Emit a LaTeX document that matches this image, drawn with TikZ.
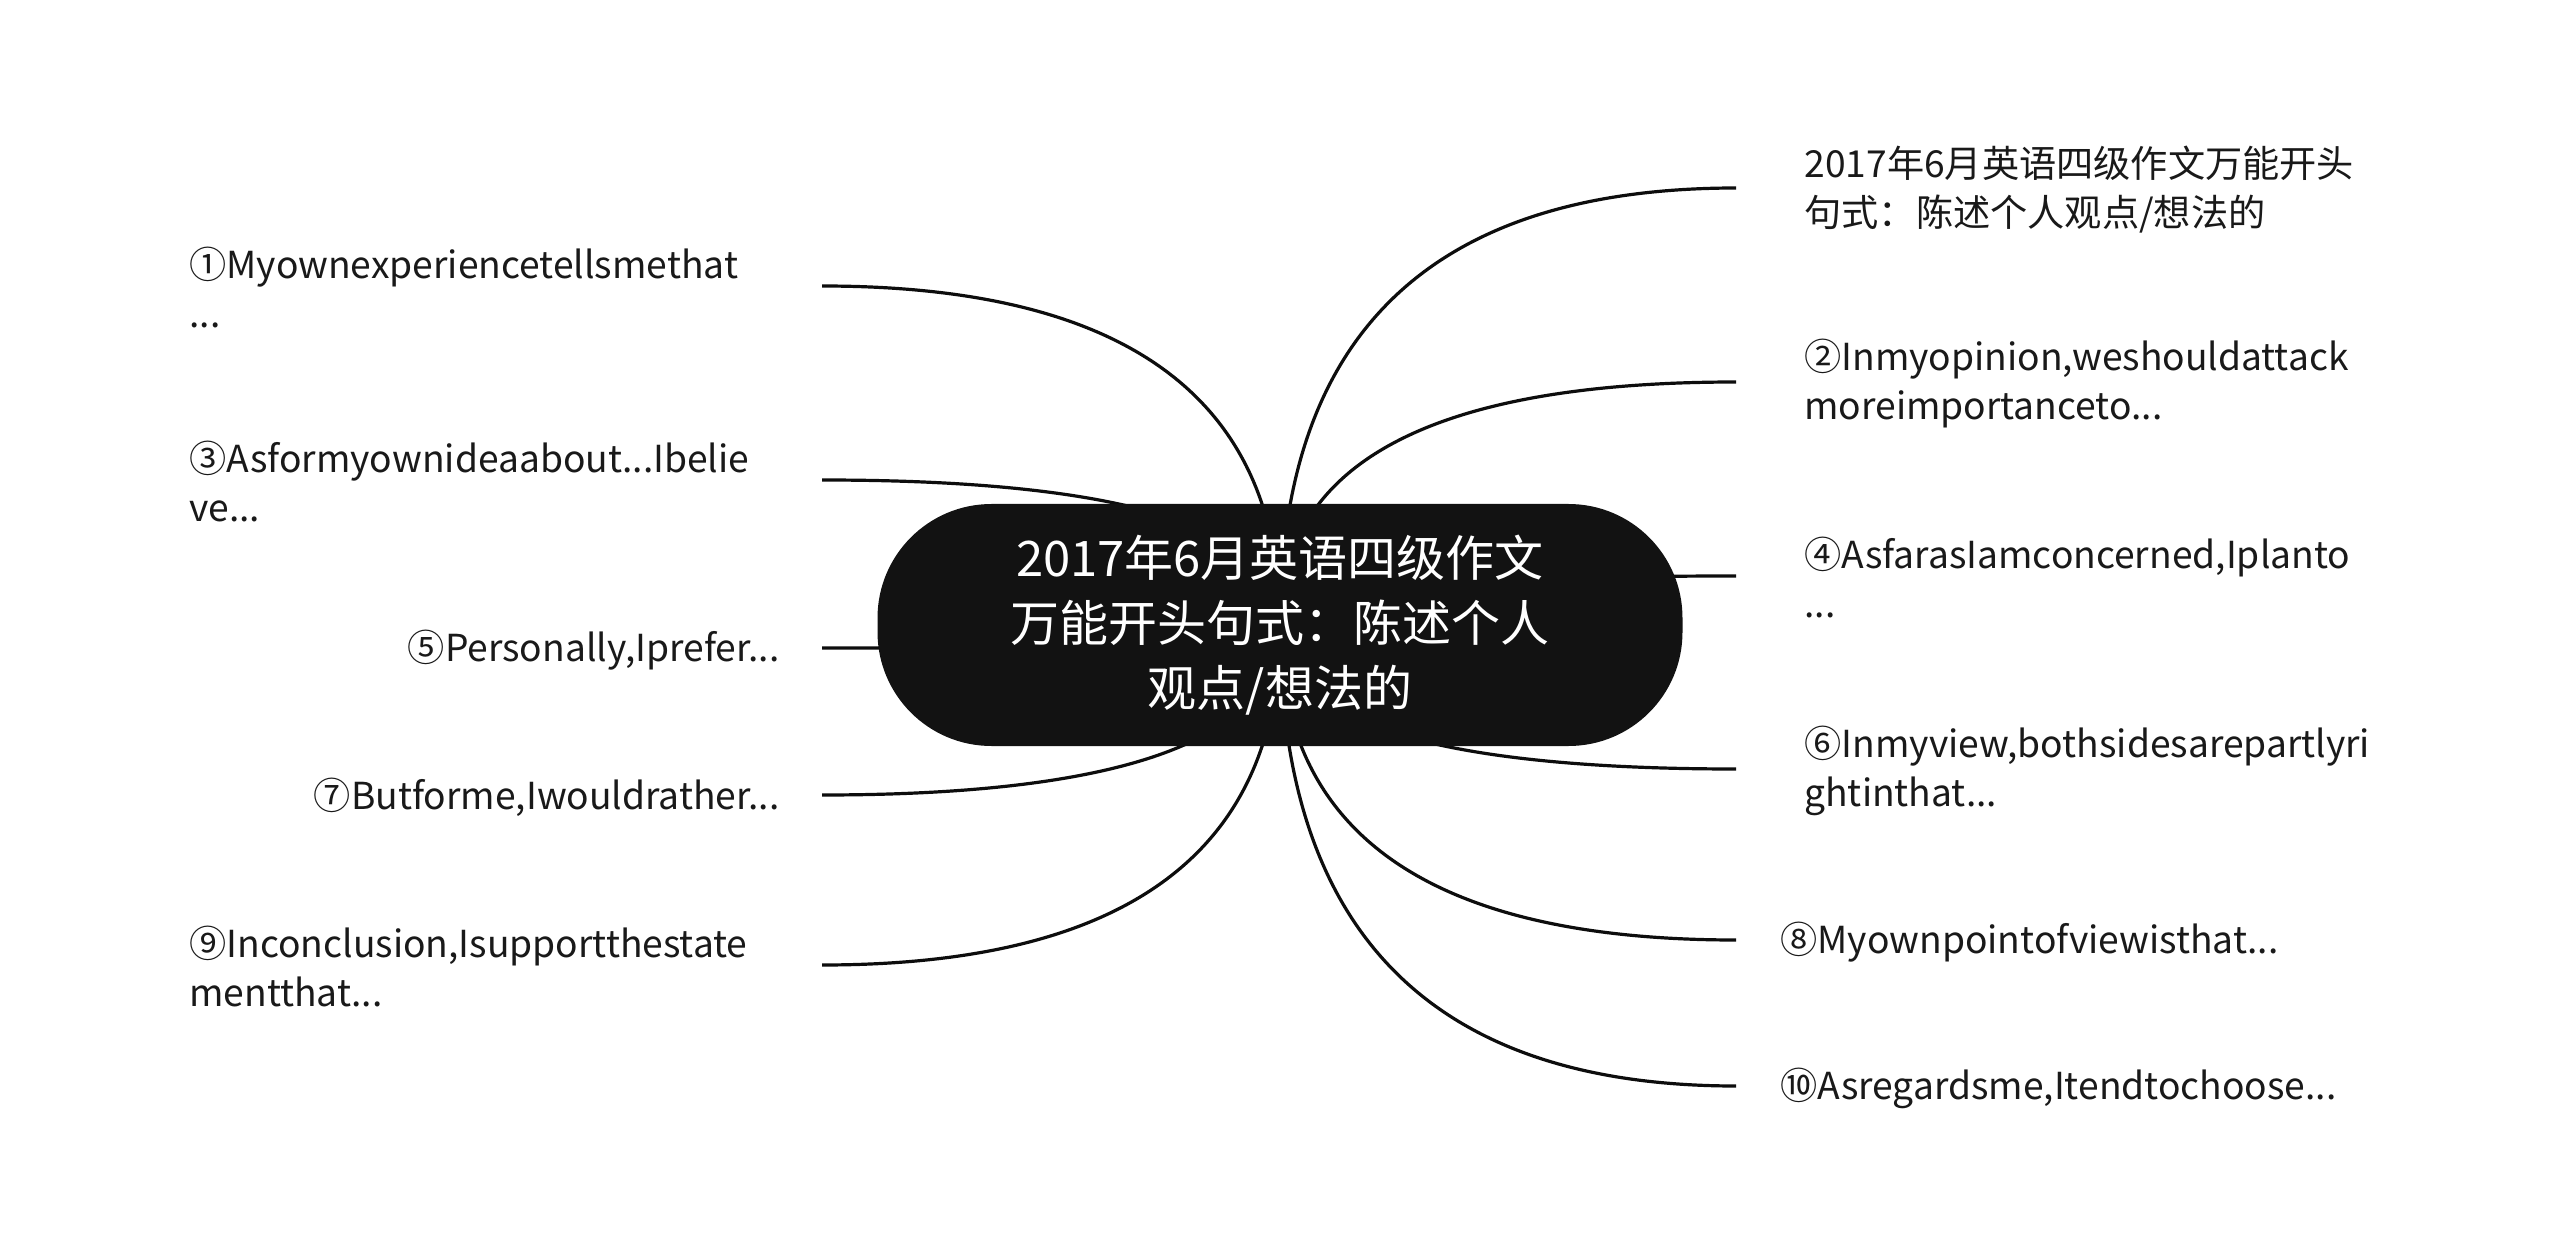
\documentclass[tikz,border=0pt]{standalone}
\usepackage{fontspec}
\setmainfont{Noto Sans CJK SC}
\usetikzlibrary{calc}
\usetikzlibrary{backgrounds}

\tikzset{
	topic/.style = {rectangle, rounded corners=57pt, fill=black!93, text=white, minimum width=402.5pt, minimum height=121pt, inner sep=0pt, align=center, font=\fontsize{24.5pt}{32.5pt}\selectfont},
	item/.style = {inner sep=0pt, text=black!90, font=\fontsize{18.6pt}{24.5pt}\selectfont},
	leftitem/.style = {item, anchor=west, align=left},
	rightitem/.style = {item, anchor=west, align=left},
	branch/.style = {line width=1.6pt, black!95}
}

\begin{document}
\begin{tikzpicture}[x=0.5pt, y=-0.5pt]
		\useasboundingbox (0,0) rectangle (2560,1251);
		\node[topic] (topic) at (1280,625) {2017年6月英语四级作文\\万能开头句式：陈述个人\\观点/想法的};
		% left side
		\coordinate (e1) at (822,286);
		\coordinate (e3) at (822,480);
		\coordinate (e5) at (822,648);
		\coordinate (e7) at (822,795);
		\coordinate (e9) at (822,965);
		\node[leftitem] (t1) at (189,288) {①Myownexperiencetellsmethat\\...};
		\node[leftitem] (t3) at (189,482) {③Asformyownideaabout...Ibelie\\ve...};
		\node[item, anchor=east] (t5) at (780,650) {⑤Personally,Iprefer...};
		\node[item, anchor=east] (t7) at (780,797) {⑦Butforme,Iwouldrather...};
		\node[leftitem] (t9) at (189,967) {⑨Inconclusion,Isupportthestate\\mentthat...};
		% right side
		\coordinate (e0) at (1736,188);
		\coordinate (e2) at (1736,382);
		\coordinate (e4) at (1736,576);
		\coordinate (e6) at (1736,769);
		\coordinate (e8) at (1736,940);
		\coordinate (e10) at (1736,1086);
		\node[rightitem] (t0) at (1804,190) {2017年6月英语四级作文万能开头\\句式：陈述个人观点/想法的};
		\node[rightitem] (t2) at (1804,384) {②Inmyopinion,weshouldattack\\moreimportanceto...};
		\node[rightitem] (t4) at (1804,578) {④AsfarasIamconcerned,Iplanto\\...};
		\node[rightitem] (t6) at (1804,771) {⑥Inmyview,bothsidesarepartlyri\\ghtinthat...};
		\node[rightitem] (t8) at (1780,942) {⑧Myownpointofviewisthat...};
		\node[rightitem] (t10) at (1780,1088) {⑩Asregardsme,Itendtochoose...};
		\begin{scope}[on background layer]
			\fill[white] (0,0) rectangle (2560,1251);
			\foreach \e in {e0,e1,e2,e3,e4,e5,e6,e7,e8,e9,e10}
				\draw[branch] (topic.center) .. controls ($(topic.center)!2/3!(topic.center |- \e)$) and ($(\e)!2/3!(topic.center |- \e)$) .. (\e);
		\end{scope}
	\end{tikzpicture}
\end{document}
